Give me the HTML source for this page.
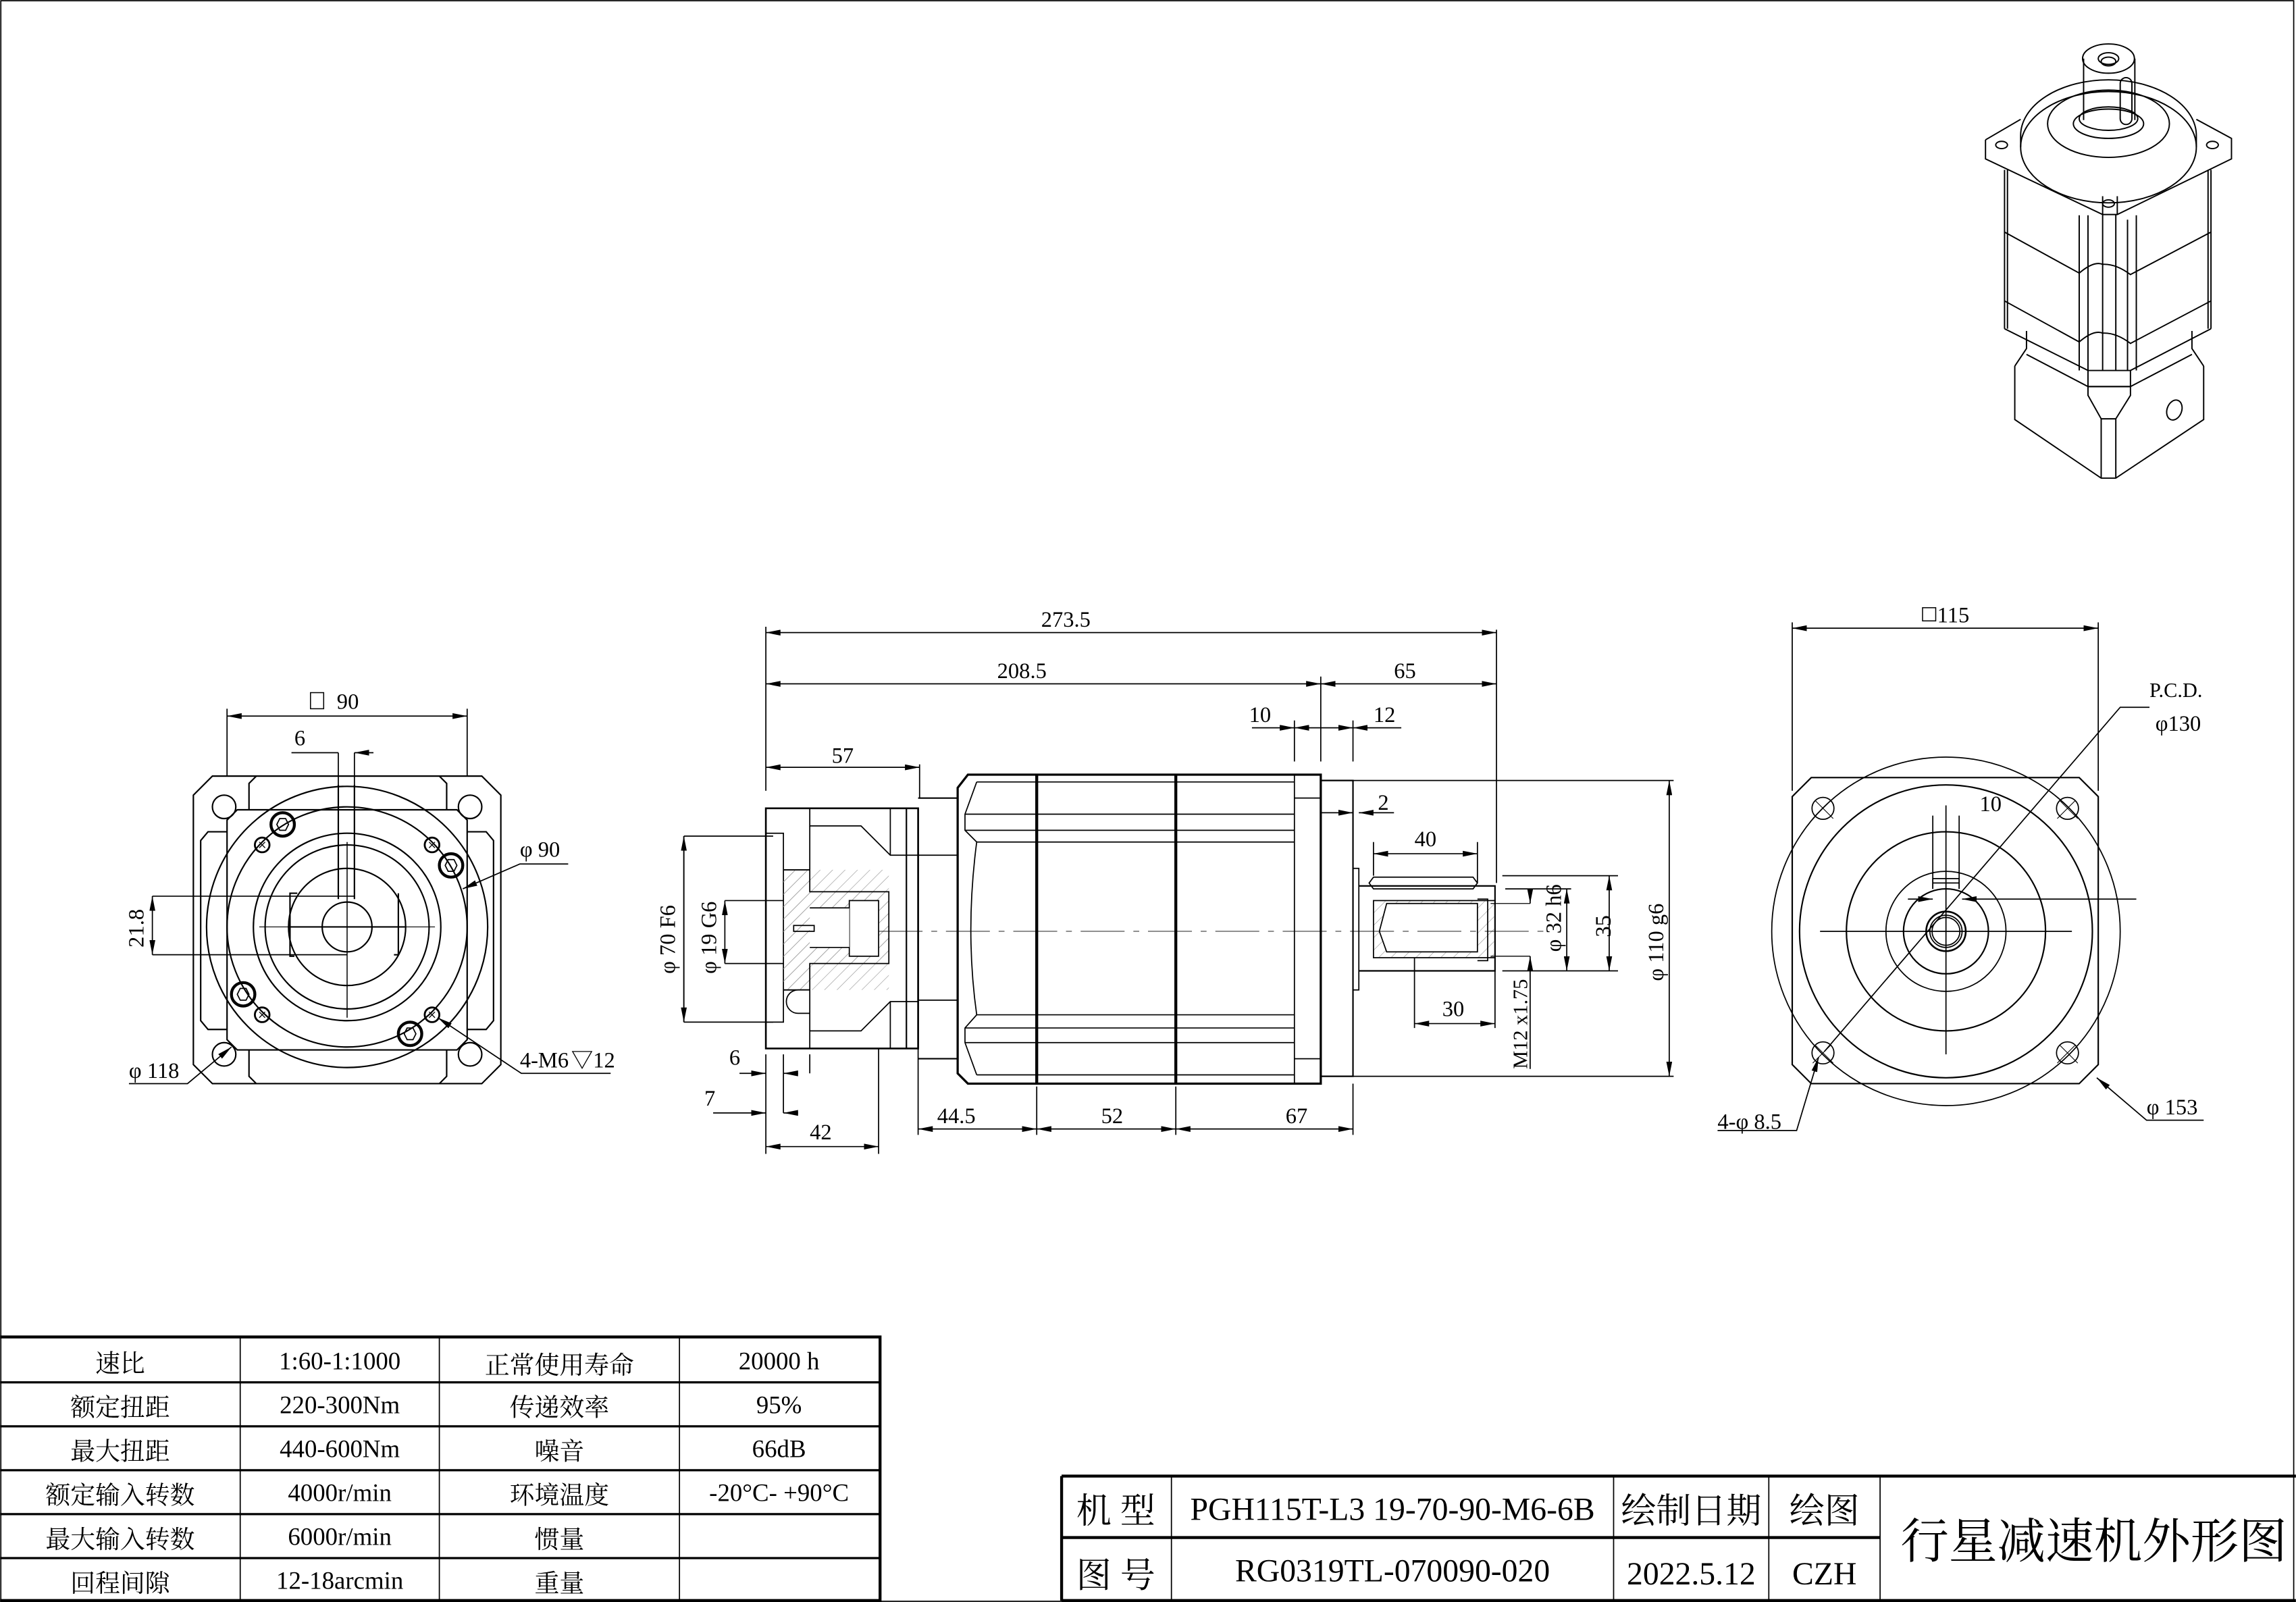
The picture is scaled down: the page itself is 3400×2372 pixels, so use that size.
<!DOCTYPE html>
<html><head><meta charset="utf-8"><style>
html,body{margin:0;padding:0;background:#fff}
svg{display:block}
text{font-family:"Liberation Serif","Noto Serif CJK SC","Noto Sans CJK SC",serif;fill:#000}
.c{font-family:"Liberation Serif","Noto Sans CJK SC",serif}
</style></head><body>
<svg width="3400" height="2372" viewBox="0 0 1568 1094" xmlns="http://www.w3.org/2000/svg">
<defs>
<marker id="a" viewBox="0 0 10 4" refX="10" refY="2" markerWidth="10" markerHeight="4" orient="auto-start-reverse" markerUnits="userSpaceOnUse"><path d="M0,0L10,2L0,4z" fill="#000"/></marker>
<pattern id="h" width="6" height="6" patternUnits="userSpaceOnUse" patternTransform="rotate(45)"><line x1="0" y1="0" x2="0" y2="6" stroke="#999" stroke-width="0.6"/></pattern>
</defs>
<g fill="none" stroke="#000" stroke-width="0.8">
<rect x="0.5" y="0.5" width="1566" height="1093"/>

<!-- ===== LEFT VIEW ===== -->
<g stroke-width="1">
<path d="M145,530H329L342,543V727L329,740H145L132,727V543Z"/>
<path d="M170,553V535L175,530M300,530L305,535V553"/>
<path d="M170,717V735L175,740M300,740L305,735V717"/>
<path d="M155,568H142L137,574V697L142,703H155"/>
<path d="M319,568H332L337,574V697L332,703H319"/>
<path d="M162,553H312L319,560V710L312,717H162L155,710V560Z"/>
<ellipse cx="153" cy="551" rx="8" ry="8"/><ellipse cx="321" cy="551" rx="8" ry="8"/>
<ellipse cx="153" cy="720" rx="8" ry="8"/><ellipse cx="321" cy="720" rx="8" ry="8"/>
<circle cx="237" cy="633" r="96"/>
<circle cx="237" cy="633" r="82"/>
<circle cx="237" cy="633" r="64"/>
<circle cx="237" cy="633" r="56"/>
<circle cx="237" cy="633" r="40"/>
<circle cx="237" cy="633" r="17"/>
<path d="M203,610H198V653H201M272,610V652H269"/>
<path d="M197,633H277"/>
<path d="M231,536V614M242,536V614"/>
<path d="M237,575V695" stroke-width="0.7"/>
<path d="M177,633H297" stroke-width="0.5"/>
</g>
<g stroke-width="2"><circle cx="193" cy="563" r="8"/><circle cx="308" cy="591" r="8"/><circle cx="166" cy="679" r="8"/><circle cx="280" cy="706" r="8"/></g>
<g stroke-width="0.8"><path d="M189,563l2-4h4l2,4l-2,4h-4z M304,591l2-4h4l2,4l-2,4h-4z M162,679l2-4h4l2,4l-2,4h-4z M276,706l2-4h4l2,4l-2,4h-4z"/></g>
<g stroke-width="1.3"><circle cx="179" cy="577" r="5"/><circle cx="295" cy="577" r="5"/><circle cx="179" cy="693" r="5"/><circle cx="295" cy="693" r="5"/></g>
<path d="M177,575l4,4M181,575l-4,4M293,575l4,4M297,575l-4,4M177,691l4,4M181,691l-4,4M293,691l4,4M297,691l-4,4" stroke-width="0.6"/>
<path d="M155,530V484M319,530V484"/>
<path d="M155,489H319" marker-start="url(#a)" marker-end="url(#a)"/>
<rect x="212" y="473" width="9" height="11" stroke-width="0.7"/>
<path d="M199,514H231M255,514H242" marker-end="url(#a)"/>
<path d="M231,514V540M242,514V540"/>
<path d="M104,612H242M104,652H237"/>
<path d="M104,612V652" marker-start="url(#a)" marker-end="url(#a)"/>
<path d="M388,590H355L316,607" marker-end="url(#a)"/>
<path d="M88,740H128L158,715" marker-end="url(#a)"/>
<path d="M417,733H356L299,695" marker-end="url(#a)"/>

<!-- ===== MIDDLE VIEW ===== -->
<path d="M523,552H627V716H523Z" stroke-width="1.2"/>
<path d="M523,569H535V698H523"/>
<path d="M553,552V564H588L608,584H627M608,552V584"/>
<path d="M553,716V704H588L608,684H627M608,716V684"/>
<path d="M535,594H553V564M535,676H553V704"/>
<rect x="535" y="594" width="72" height="82" fill="url(#h)" stroke="none"/>
<path d="M535,594H553V609H607V658H553V676H535" fill="url(#h)"/>
<rect x="580" y="615" width="20" height="38" fill="#fff"/>
<rect x="553" y="620" width="27" height="27" fill="#fff" stroke="none"/>
<path d="M553,620H580M553,647H580"/>
<rect x="542" y="632" width="14" height="4"/>
<path d="M545,676a8,8 0 0 0 0,16h8v-16z" fill="#fff"/>
<path d="M619,552V716M627,552V716M627,545H654M627,723H654M654,545V723" stroke-width="1"/>
<path d="M627,584H654M627,683H654"/>
<path d="M661,529H902V740H661L654,733V538Z" stroke-width="1.5"/>
<path d="M708,529V740M803,529V740" stroke-width="2"/>
<path d="M667,534H884M659,556H884M659,567H884M667,575H884"/>
<path d="M667,693H884M659,702H884M659,712H884M667,734H884"/>
<path d="M667,534L659,556V567L667,575Q659,636 667,693L659,702V712L667,734"/>
<path d="M884,529V740M884,545H902M884,723H902"/>
<path d="M902,533H924V735H902" stroke-width="1"/>
<path d="M924,593H928V676H924"/>
<path d="M928,605H1021V663H928" stroke-width="1"/>
<path d="M938,599H1006L1009,603L1006,607H938L935,603Z"/>
<rect x="938" y="615" width="83" height="39" fill="url(#h)"/>
<path d="M947,617H1009V650H947L942,636Z" fill="#fff"/>
<path d="M1009,614H1016V656H1009"/>
<path d="M600,636H1060" stroke-width="0.4" stroke-dasharray="30,6,4,6"/>
<path d="M523,540V428M1022,430V603M902,520V462M884,520V492M924,520V492M628,545V522"/>
<path d="M523,432H1022" marker-start="url(#a)" marker-end="url(#a)"/>
<path d="M523,467H902" marker-start="url(#a)" marker-end="url(#a)"/>
<path d="M902,467H1022" marker-start="url(#a)" marker-end="url(#a)"/>
<path d="M523,524H628" marker-start="url(#a)" marker-end="url(#a)"/>
<path d="M855,497H884" marker-end="url(#a)"/><path d="M902,497H884" marker-end="url(#a)"/>
<path d="M902,497H924" marker-end="url(#a)"/><path d="M957,497H924" marker-end="url(#a)"/>
<path d="M902,555H924" marker-end="url(#a)"/><path d="M952,555H928" marker-end="url(#a)"/>
<path d="M938,583H1009" marker-start="url(#a)" marker-end="url(#a)"/>
<path d="M938,598V575M1009,603V575"/>
<path d="M966,654V702M1021,663V702"/>
<path d="M966,699H1021" marker-start="url(#a)" marker-end="url(#a)"/>
<path d="M1026,598H1105M1026,663H1105M1028,607H1073M1028,663H1073"/>
<path d="M1099,598V663" marker-start="url(#a)" marker-end="url(#a)"/>
<path d="M1070,607V663" marker-start="url(#a)" marker-end="url(#a)"/>
<path d="M1045,607V617" marker-end="url(#a)"/><path d="M1045,663V653" marker-end="url(#a)"/>
<path d="M1045,617H1018M1045,653H1018" stroke-width="0.6"/>
<path d="M1045,663V730"/>
<path d="M924,533H1143M924,735H1143"/>
<path d="M1140,533V735" marker-start="url(#a)" marker-end="url(#a)"/>
<path d="M467,571V698M467,571H528M467,698H528"/>
<path d="M467,571V698" marker-start="url(#a)" marker-end="url(#a)"/>
<path d="M495,615H535M495,658H535"/>
<path d="M495,615V658" marker-start="url(#a)" marker-end="url(#a)"/>
<path d="M523,720V788M535,720V760M553,720V733M600,716V788M627,716V775M708,742V775M803,742V775M924,740V775"/>
<path d="M505,733H523" marker-end="url(#a)"/><path d="M545,733H535" marker-end="url(#a)"/>
<path d="M487,760H523" marker-end="url(#a)"/><path d="M545,760H535" marker-end="url(#a)"/>
<path d="M523,783H600" marker-start="url(#a)" marker-end="url(#a)"/>
<path d="M627,771H708" marker-start="url(#a)" marker-end="url(#a)"/>
<path d="M708,771H803" marker-start="url(#a)" marker-end="url(#a)"/>
<path d="M803,771H924" marker-start="url(#a)" marker-end="url(#a)"/>

<!-- ===== RIGHT VIEW ===== -->
<path d="M1237,531H1420L1433,544V727L1420,740H1237L1224,727V544Z" stroke-width="1"/>
<circle cx="1329" cy="636" r="119"/>
<circle cx="1329" cy="636" r="100" stroke-width="1"/>
<circle cx="1329" cy="636" r="68" stroke-width="1"/>
<circle cx="1329" cy="636" r="41"/>
<circle cx="1329" cy="636" r="29" stroke-width="1"/>
<circle cx="1329" cy="636" r="13.5" stroke-width="1.2"/>
<circle cx="1329" cy="636" r="11"/><circle cx="1329" cy="636" r="9.5"/>
<path d="M1320,607V600H1338V607M1320,603H1338"/>
<path d="M1320,557V607M1338,557V607"/>
<path d="M1243,636H1415M1329,550V720"/>
<g><circle cx="1245" cy="552" r="7.5"/><circle cx="1412" cy="552" r="7.5"/><circle cx="1245" cy="719" r="7.5"/><circle cx="1412" cy="719" r="7.5"/></g>
<path d="M1240,547l12,12M1250,547l-12,12M1407,547l12,12M1417,547l-12,12M1240,714l12,12M1250,714l-12,12M1407,714l12,12M1417,714l-12,12" stroke-width="0.5"/>
<path d="M1224,540V425M1433,540V425"/>
<path d="M1224,429H1433" marker-start="url(#a)" marker-end="url(#a)"/>
<rect x="1313" y="415" width="9" height="9" stroke-width="0.7"/>
<path d="M1468,483H1448L1246,718"/>
<path d="M1459,614H1340" marker-end="url(#a)"/><path d="M1303,614H1320" marker-end="url(#a)"/>
<path d="M1173,772H1227L1242,722" marker-end="url(#a)"/>
<path d="M1505,765H1466L1432,736" marker-end="url(#a)"/>

<!-- ===== ISOMETRIC ===== -->
<g stroke-width="0.9">
<path d="M1356,95.5L1380,81.5M1500,81.5L1524,94.5V108.5L1446,146.5H1436L1356,108.5V95.5"/>
<path d="M1436,146.5V134M1446,146.5V134"/>
<ellipse cx="1440" cy="100.5" rx="60" ry="38"/>
<path d="M1380,92.5A60,38 0 0 1 1500,92.5M1380,92.5V100.5M1500,92.5V100.5"/>
<ellipse cx="1440" cy="84.5" rx="41.6" ry="23"/>
<ellipse cx="1440" cy="84.5" rx="24" ry="10"/>
<ellipse cx="1440" cy="81" rx="20" ry="8"/>
<path d="M1423,40V82M1458,40V82"/>
<ellipse cx="1440" cy="40" rx="17.7" ry="10"/>
<ellipse cx="1440" cy="40" rx="7" ry="4"/><ellipse cx="1440" cy="42" rx="5" ry="3"/>
<rect x="1448" y="53" width="8" height="32" rx="4"/>
<ellipse cx="1367" cy="99" rx="4" ry="2.5"/><ellipse cx="1511" cy="99" rx="4" ry="2.5"/><ellipse cx="1440" cy="139" rx="4" ry="2.5"/>
<path d="M1369,116V224.5M1371,116V224.5M1510,116V224.5M1508,116V224.5"/>
<path d="M1369,158.5L1420,186.5Q1430,178 1436,180.5Q1445,180 1455,187.5L1510,158.5"/>
<path d="M1369,205.5L1420,233.5Q1430,225 1436,227.5Q1445,227 1455,234.5L1510,205.5"/>
<path d="M1420,147V253M1426,147V253M1436,146.5V253M1445,146.5V253M1453,150V253M1459,147V253"/>
<path d="M1369,224.5L1426,253L1455,253L1510,224.5"/>
<path d="M1376,250L1384,238V226M1505,250L1497,238V226"/>
<path d="M1376,250V286.5L1435,326.5H1445L1505,286.5V250"/>
<path d="M1384,242L1426,264H1455L1497,242"/>
<path d="M1426,253V270L1435,286V326.5M1455,253V270L1445,286V326.5M1435,286H1445M1426,264H1455"/>
<ellipse cx="1485" cy="280" rx="5" ry="7" transform="rotate(20 1485 280)"/>
</g>

<!-- ===== SPEC TABLE ===== -->
<path d="M0,913H601V1093H0" stroke-width="2"/>
<path d="M0,944H601M0,974H601M0,1004H601M0,1034H601M0,1064H601" stroke-width="1.5"/>
<path d="M164,913V1093M300,913V1093M464,913V1093M601,913V1093" stroke-width="0.8"/>
<path d="M725,1008H1568M725,1093H1568M725,1008V1093" stroke-width="2"/>
<path d="M725,1050H1284" stroke-width="2"/>
<path d="M800,1008V1093M1102,1008V1093M1208,1008V1093M1284,1008V1093" stroke-width="0.8"/>
</g>

<!-- ===== TEXT ===== -->
<g font-size="15">
<text x="230" y="484">90</text>
<text x="201" y="509">6</text>
<text x="355" y="585">φ 90</text>
<text transform="translate(98,647) rotate(-90)">21.8</text>
<text x="88" y="736">φ 118</text>
<text x="355" y="729">4-M6</text><text x="390" y="729">▽12</text>
<text x="711" y="428">273.5</text>
<text x="681" y="463">208.5</text>
<text x="952" y="463">65</text>
<text x="568" y="521">57</text>
<text x="853" y="493">10</text>
<text x="938" y="493">12</text>
<text x="941" y="553">2</text>
<text x="966" y="578">40</text>
<text x="985" y="694">30</text>
<text x="1323" y="425">115</text>
<text x="1468" y="476" font-size="14">P.C.D.</text>
<text x="1472" y="499">φ130</text>
<text x="1352" y="554">10</text>
<text x="1173" y="771">4-φ 8.5</text>
<text x="1466" y="761">φ 153</text>
<text x="498" y="727">6</text>
<text x="481" y="755">7</text>
<text x="553" y="778">42</text>
<text x="640" y="767">44.5</text>
<text x="752" y="767">52</text>
<text x="878" y="767">67</text>
<text transform="translate(461,665) rotate(-90)">φ 70 F6</text>
<text transform="translate(489,665) rotate(-90)">φ 19 G6</text>
<text transform="translate(1066,650) rotate(-90)">φ 32 h6</text>
<text transform="translate(1100,640) rotate(-90)">35</text>
<text transform="translate(1136,670) rotate(-90)">φ 110 g6</text>
<text transform="translate(1043,730) rotate(-90)" font-size="14">M12 x1.75</text>
</g>
<g font-size="17" text-anchor="middle" class="c">
<text x="82" y="937">速比</text><text x="232" y="935">1:60-1:1000</text><text x="382" y="938">正常使用寿命</text><text x="532" y="935">20000 h</text>
<text x="82" y="967">额定扭距</text><text x="232" y="965">220-300Nm</text><text x="382" y="967">传递效率</text><text x="532" y="965">95%</text>
<text x="82" y="997">最大扭距</text><text x="232" y="995">440-600Nm</text><text x="382" y="997">噪音</text><text x="532" y="995">66dB</text>
<text x="82" y="1027">额定输入转数</text><text x="232" y="1025">4000r/min</text><text x="382" y="1027">环境温度</text><text x="532" y="1025">-20°C- +90°C</text>
<text x="82" y="1057">最大输入转数</text><text x="232" y="1055">6000r/min</text><text x="382" y="1057">惯量</text>
<text x="82" y="1087">回程间隙</text><text x="232" y="1085">12-18arcmin</text><text x="382" y="1087">重量</text>
</g>
<g font-size="24" text-anchor="middle" class="c">
<text x="762" y="1040">机 型</text><text x="951" y="1038" font-size="22">PGH115T-L3 19-70-90-M6-6B</text><text x="1155" y="1040">绘制日期</text><text x="1246" y="1040">绘图</text>
<text x="762" y="1084">图 号</text><text x="951" y="1080" font-size="22">RG0319TL-070090-020</text><text x="1155" y="1082" font-size="22">2022.5.12</text><text x="1246" y="1082" font-size="22">CZH</text>
<text x="1298" y="1064" font-size="33" text-anchor="start">行星减速机外形图</text>
</g>
</svg>
</body></html>
